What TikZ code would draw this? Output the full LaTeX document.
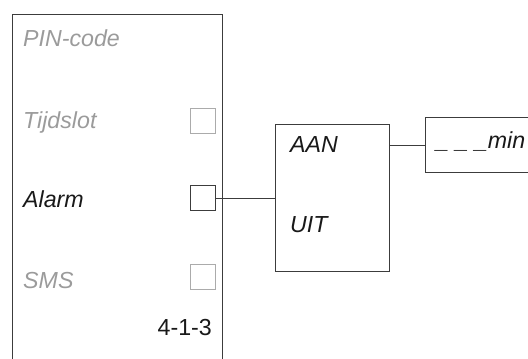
\documentclass[tikz,border=0pt]{standalone}
\usepackage{fontspec}
\setmainfont{Liberation Sans}
\usepackage{xcolor}
\usepackage{tikz}
\usetikzlibrary{positioning}
\definecolor{dimgrey}{HTML}{9B9B9B}
\definecolor{boxgrey}{HTML}{ABABAB}
\definecolor{linegrey}{HTML}{3C3C3C}

\begin{document}
\begin{tikzpicture}[x=1bp, y=-1bp,
  entry/.style={anchor=base west, inner sep=0pt, font=\fontsize{23.2bp}{28bp}\selectfont\itshape, text=black!90},
  off/.style={text=dimgrey},
  check/.style={draw=boxgrey, line width=1bp, minimum size=25bp, inner sep=0pt},
  frame/.style={draw=linegrey, line width=1bp, inner sep=0pt},
  wire/.style={draw=linegrey, line width=1bp}
]
  \useasboundingbox (0,0) rectangle (528,358);
  \clip (0,0) rectangle (528,358);

  % menu panel, open at the bottom
  \draw[frame] (12,362) -- (12,14) -- (222,14) -- (222,362);
  \node[entry, off] (pin) at (23,46) {PIN-code};
  \node[entry, off] (tijdslot) at (23,128) {Tijdslot};
  \node[entry] (alarm) at (23,207) {Alarm};
  \node[entry, off] (sms) at (23,288) {SMS};
  \node[check] (tijdbox) at (203,121) {};
  \node[check, draw=linegrey] (alarmbox) at (203,198) {};
  \node[check] (smsbox) at (203,277) {};
  \node[anchor=base east, inner sep=0pt, font=\fontsize{23.2bp}{28bp}\selectfont, text=black!90] (menu) at (212,335) {4-1-3};

  % aan / uit choice
  \node[frame, minimum width=114bp, minimum height=147bp] (onoff) at (332,198) {};
  \node[entry] (aan) at (290,152) {AAN};
  \node[entry] (uit) at (290,232) {UIT};
  \draw[wire] (alarmbox.east) -- (alarmbox.east -| onoff.west);

  % minutes, cut off by the page edge
  \node[frame, anchor=north west, minimum width=130bp, minimum height=55bp] (minbox) at (425,117) {};
  \node[entry] (minutes) at (436,148) {\_ \_ \_min};
  \draw[wire] (minbox.west -| onoff.east) -- (minbox.west);
\end{tikzpicture}
\end{document}
